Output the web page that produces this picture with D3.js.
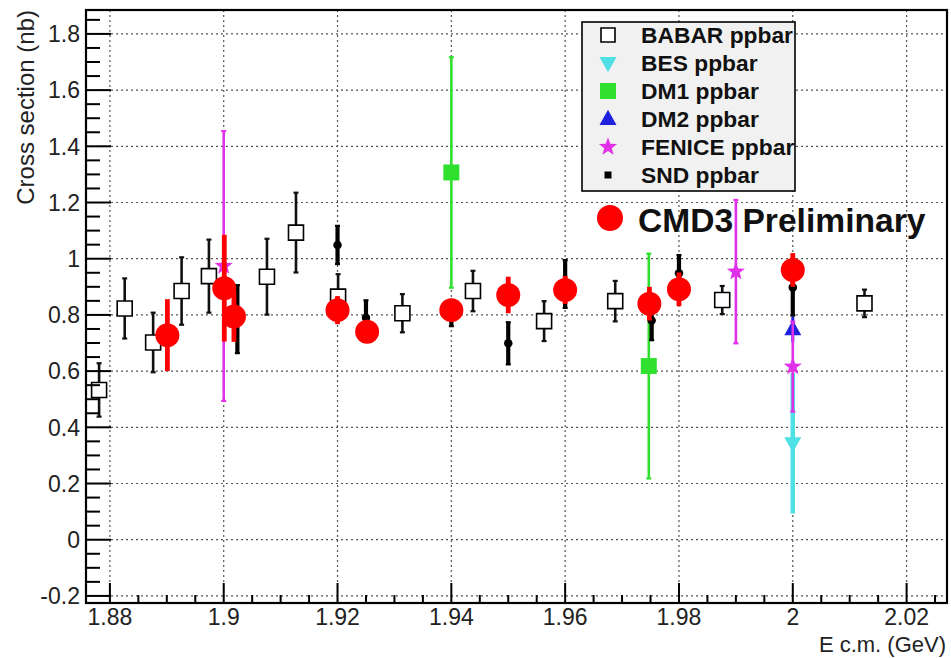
<!DOCTYPE html>
<html>
<head>
<meta charset="utf-8">
<script src="https://cdn.jsdelivr.net/npm/d3@7"></script>
<style>
  html, body { margin: 0; padding: 0; background: #fff; }
  svg { display: block; font-family: "Liberation Sans", Arial, Helvetica, sans-serif; }
</style>
</head>
<body>
<svg id="chart" width="951" height="658"></svg>
<script>
// e+e- -> p pbar cross section near threshold, per experiment
const babarE   = [1.8781, 1.8826, 1.8876, 1.8926, 1.8974, 1.9076, 1.9127, 1.9201, 1.9314, 1.9438, 1.9563, 1.9688, 1.9876, 2.0126];
const babarXs  = [0.533, 0.823, 0.702, 0.885, 0.938, 0.936, 1.093, 0.865, 0.806, 0.885, 0.778, 0.849, 0.853, 0.841];
const babarErr = [0.095, 0.107, 0.106, 0.120, 0.130, 0.135, 0.142, 0.080, 0.068, 0.072, 0.071, 0.072, 0.050, 0.049];

const besE   = [2.0];
const besXs  = [0.343];
const besErr = [0.25];

const dm1E   = [1.94, 1.9747];
const dm1Xs  = [1.307, 0.618];
const dm1Err = [0.41, 0.40];

const dm2E   = [2.0];
const dm2Xs  = [0.749];
const dm2Err = [0.045];

const feniceE   = [1.9, 1.99, 2.0];
const feniceXs  = [0.974, 0.954, 0.616];
const feniceErr = [0.48, 0.255, 0.16];

const sndE   = [1.9024, 1.92, 1.925, 1.94, 1.95, 1.96, 1.9752, 1.98, 2.0];
const sndXs  = [0.785, 1.049, 0.79, 0.80, 0.699, 0.91, 0.78, 0.948, 0.898];
const sndErr = [0.121, 0.068, 0.062, 0.04, 0.075, 0.085, 0.07, 0.065, 0.10];

const cmd3E   = [1.8901, 1.9001, 1.9018, 1.92, 1.9252, 1.94, 1.95, 1.96, 1.9748, 1.98, 2.0];
const cmd3Xs  = [0.728, 0.895, 0.794, 0.817, 0.740, 0.817, 0.871, 0.889, 0.840, 0.891, 0.960];
const cmd3Err = [0.128, 0.19, 0.09, 0.05, 0.04, 0.04, 0.065, 0.05, 0.06, 0.06, 0.06];

const xTicks = [1.88, 1.90, 1.92, 1.94, 1.96, 1.98, 2.00, 2.02];
const yTicks = [-0.2, 0, 0.2, 0.4, 0.6, 0.8, 1.0, 1.2, 1.4, 1.6, 1.8];

const legendLabels = ["BABAR ppbar", "BES ppbar", "DM1 ppbar", "DM2 ppbar", "FENICE ppbar", "SND ppbar"];

const svg = d3.select("#chart");
const frame = { left: 86, top: 10, right: 947, bottom: 603 };

const x = d3.scaleLinear().domain([1.8758, 2.0271]).range([frame.left, frame.right]);
const y = d3.scaleLinear().domain([-0.2252, 1.8851]).range([frame.bottom, frame.top]);

const fmt = v => String(+v.toFixed(2));

// dotted grid at major ticks
const grid = svg.append("g").attr("stroke", "#555").attr("stroke-width", 1.2)
  .attr("stroke-dasharray", "2,3");
grid.selectAll("line.gx").data(xTicks).join("line").attr("class", "gx")
  .attr("x1", d => x(d)).attr("x2", d => x(d))
  .attr("y1", frame.top).attr("y2", frame.bottom);
grid.selectAll("line.gy").data(yTicks).join("line").attr("class", "gy")
  .attr("x1", frame.left).attr("x2", frame.right)
  .attr("y1", d => y(d)).attr("y2", d => y(d));

// marker shapes
const sym = {
  square: s => d3.symbol(d3.symbolSquare, s * s)(),
  triUp: s => { const h = s * 0.9, w = s / 2; return `M0,${-h*0.6}L${w},${h*0.4}L${-w},${h*0.4}Z`; },
  triDown: s => { const h = s * 0.9, w = s / 2; return `M0,${h*0.6}L${w},${-h*0.4}L${-w},${-h*0.4}Z`; },
  star: s => {
    const R = s / 2, r = R * 0.42; let p = "";
    for (let i = 0; i < 10; i++) {
      const a = -Math.PI / 2 + i * Math.PI / 5, rr = i % 2 ? r : R;
      p += (i ? "L" : "M") + (rr * Math.cos(a)).toFixed(2) + "," + (rr * Math.sin(a)).toFixed(2);
    }
    return p + "Z";
  },
  circle: s => d3.symbol(d3.symbolCircle, Math.PI * s * s / 4)()
};

function drawSeries(E, V, Err, opt) {
  const pts = E.map((e, i) => ({ e, v: V[i], err: Err[i] }));
  const g = svg.append("g");
  const eb = g.append("g").attr("stroke", opt.errColor).attr("stroke-width", opt.errWidth);
  eb.selectAll("line.bar").data(pts).join("line").attr("class", "bar")
    .attr("x1", d => x(d.e)).attr("x2", d => x(d.e))
    .attr("y1", d => y(d.v - d.err)).attr("y2", d => y(d.v + d.err));
  if (opt.cap) {
    ["lo", "hi"].forEach(k => {
      eb.selectAll("line.cap" + k).data(pts).join("line").attr("class", "cap" + k)
        .attr("x1", d => x(d.e) - opt.cap).attr("x2", d => x(d.e) + opt.cap)
        .attr("y1", d => y(k === "lo" ? d.v - d.err : d.v + d.err))
        .attr("y2", d => y(k === "lo" ? d.v - d.err : d.v + d.err))
        .attr("stroke-width", 2.2);
    });
  }
  g.selectAll("path.m").data(pts).join("path").attr("class", "m")
    .attr("transform", d => `translate(${x(d.e)},${y(d.v)})`)
    .attr("d", sym[opt.shape](opt.size))
    .attr("fill", opt.fill).attr("stroke", opt.stroke || "none")
    .attr("stroke-width", opt.strokeWidth || 0);
}

const colors = {
  bes: "#4fe0e6", dm1: "#2fe02f", dm2: "#2020e0", fenice: "#e030e8", snd: "#000", cmd3: "#ff0000"
};

drawSeries(babarE, babarXs, babarErr, { errColor: "#111", errWidth: 2.6, cap: 2.5, shape: "square", size: 15, fill: "#fff", stroke: "#000", strokeWidth: 1.6 });
drawSeries(besE, besXs, besErr, { errColor: colors.bes, errWidth: 4.5, cap: 0, shape: "triDown", size: 17, fill: colors.bes });
drawSeries(dm1E, dm1Xs, dm1Err, { errColor: colors.dm1, errWidth: 2.6, cap: 2.5, shape: "square", size: 16, fill: colors.dm1 });
drawSeries(dm2E, dm2Xs, dm2Err, { errColor: colors.dm2, errWidth: 3, cap: 0, shape: "triUp", size: 17, fill: colors.dm2 });
drawSeries(feniceE, feniceXs, feniceErr, { errColor: colors.fenice, errWidth: 2.6, cap: 2.5, shape: "star", size: 19, fill: colors.fenice });
drawSeries(sndE, sndXs, sndErr, { errColor: colors.snd, errWidth: 4.2, cap: 2.5, shape: "circle", size: 8.5, fill: colors.snd });
drawSeries(cmd3E, cmd3Xs, cmd3Err, { errColor: colors.cmd3, errWidth: 4.8, cap: 0, shape: "circle", size: 24, fill: colors.cmd3 });

// frame
svg.append("rect").attr("x", frame.left).attr("y", frame.top)
  .attr("width", frame.right - frame.left).attr("height", frame.bottom - frame.top)
  .attr("fill", "none").attr("stroke", "#000").attr("stroke-width", 2.2);

// axes: ticks drawn inward from the frame
const xMinor = d3.range(1.875, 2.0275, 0.005).filter(v => v >= 1.8758 && v <= 2.0271);
const yMinor = d3.range(-0.2, 1.8851, 0.05);
const ax = svg.append("g").attr("stroke", "#000").attr("stroke-width", 2);
ax.selectAll("line.xm").data(xMinor).join("line").attr("class", "xm")
  .attr("x1", d => x(d)).attr("x2", d => x(d))
  .attr("y1", frame.bottom).attr("y2", d => frame.bottom - (xTicks.some(t => Math.abs(t - d) < 1e-6) ? 20 : 8));
ax.selectAll("line.ym").data(yMinor).join("line").attr("class", "ym")
  .attr("y1", d => y(d)).attr("y2", d => y(d))
  .attr("x1", frame.left).attr("x2", d => frame.left + (yTicks.some(t => Math.abs(t - d) < 1e-6) ? 25 : 14));

svg.append("g").selectAll("text").data(xTicks).join("text")
  .attr("x", d => x(d)).attr("y", 625).attr("text-anchor", "middle")
  .attr("font-size", 23).attr("fill", "#222").text(fmt);
svg.append("g").selectAll("text").data(yTicks).join("text")
  .attr("x", 80).attr("y", d => y(d)).attr("dy", "0.36em").attr("text-anchor", "end")
  .attr("font-size", 23).attr("fill", "#222").text(fmt);

svg.append("text").attr("transform", "translate(34,10) rotate(-90)")
  .attr("text-anchor", "end").attr("font-size", 24).attr("fill", "#222")
  .text("Cross section (nb)");
svg.append("text").attr("x", 946).attr("y", 652).attr("text-anchor", "end")
  .attr("font-size", 22).attr("fill", "#222").text("E c.m. (GeV)");

// legend
const leg = svg.append("g");
leg.append("rect").attr("x", 582).attr("y", 22).attr("width", 213).attr("height", 169)
  .attr("fill", "#f1f1f1").attr("stroke", "#000").attr("stroke-width", 1.6);
const legMarkers = [
  { shape: "square", size: 14, fill: "#fff", stroke: "#000", sw: 1.6 },
  { shape: "triDown", size: 17, fill: colors.bes },
  { shape: "square", size: 16, fill: colors.dm1 },
  { shape: "triUp", size: 17, fill: colors.dm2 },
  { shape: "star", size: 19, fill: colors.fenice },
  { shape: "square", size: 7, fill: "#000" }
];
const rows = leg.selectAll("g.row").data(legendLabels).join("g").attr("class", "row")
  .attr("transform", (d, i) => `translate(0,${35 + i * 28})`);
rows.append("path").attr("transform", "translate(608,0)")
  .attr("d", (d, i) => sym[legMarkers[i].shape](legMarkers[i].size))
  .attr("fill", (d, i) => legMarkers[i].fill)
  .attr("stroke", (d, i) => legMarkers[i].stroke || "none")
  .attr("stroke-width", (d, i) => legMarkers[i].sw || 0);
rows.append("text").attr("x", 641).attr("dy", "0.36em")
  .attr("font-size", 22.8).attr("font-weight", "bold").attr("fill", "#111").text(d => d);

// CMD3 label
svg.append("path").attr("transform", "translate(610,218)").attr("d", sym.circle(26)).attr("fill", colors.cmd3);
svg.append("text").attr("x", 638).attr("y", 232).attr("font-size", 33.6).attr("font-weight", "bold")
  .attr("fill", "#111").text("CMD3 Preliminary");
</script>
</body>
</html>
